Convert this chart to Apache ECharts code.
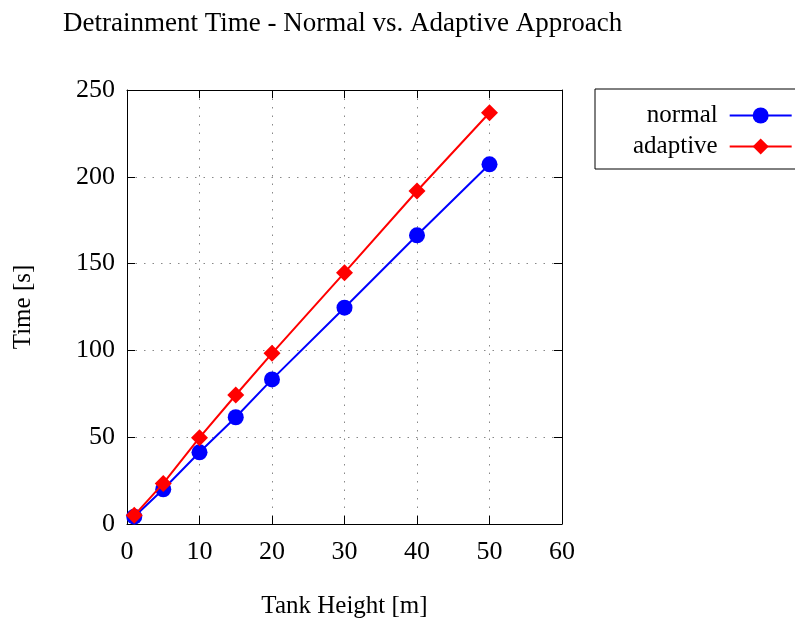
<!DOCTYPE html>
<html>
<head>
<meta charset="utf-8">
<script src="https://cdn.jsdelivr.net/npm/echarts@6/dist/echarts.min.js"></script>
<style>
html,body{margin:0;padding:0;background:#fff;}
#chart{width:795px;height:618px;}
</style>
</head>
<body>
<div id="chart"></div>
<script>
const tankHeights = [1, 5, 10, 15, 20, 30, 40, 50];
const normalTimes = [4.2, 20.0, 41.3, 61.5, 83.3, 124.6, 166.3, 207.2];
const adaptiveTimes = [5.0, 23.4, 49.7, 74.3, 98.3, 144.8, 191.8, 236.9];
const titleText = 'Detrainment Time - Normal vs. Adaptive Approach';
const xName = 'Tank Height [m]';
const yName = 'Time [s]';

const FONT = '"Liberation Serif", "DejaVu Serif", serif';
const chart = echarts.init(document.getElementById('chart'), null, {renderer: 'canvas'});

const toPairs = (xs, ys) => xs.map((x, i) => [x, ys[i]]);
const gridLine = {show: true, lineStyle: {color: '#888', width: 1, type: [1.5, 7]}};
const axisLine = {show: true, onZero: false, lineStyle: {color: '#000', width: 1}};
const tick = {show: true, inside: true, length: 8, lineStyle: {color: '#000', width: 1}};

chart.setOption({
  animation: false,
  backgroundColor: '#fff',
  textStyle: {fontFamily: FONT},
  title: {
    text: titleText,
    left: 58, top: 5,
    textStyle: {fontFamily: FONT, fontSize: 27, fontWeight: 'normal', color: '#000'}
  },
  grid: {left: 127, right: 233, top: 90, bottom: 94, containLabel: false, outerBoundsMode: 'none'},
  legend: {
    orient: 'vertical',
    left: 595, top: 89,
    align: 'right',
    itemWidth: 62, itemHeight: 20, itemGap: 6,
    padding: [14, 30, 10, 38],
    borderColor: '#000', borderWidth: 1,
    textStyle: {fontFamily: FONT, fontSize: 25, color: '#000', padding: [0, 7, 0, 0]},
    data: ['normal', 'adaptive']
  },
  xAxis: [{
    type: 'value', min: 0, max: 60, interval: 10,
    axisLine: axisLine, axisTick: tick, splitLine: gridLine,
    axisLabel: {fontFamily: FONT, fontSize: 26, color: '#000', margin: 15},
    name: xName, nameLocation: 'middle', nameGap: 70,
    nameTextStyle: {fontFamily: FONT, fontSize: 25, color: '#000'}
  }, {
    type: 'value', position: 'top', min: 0, max: 60, interval: 10,
    axisLine: axisLine, axisTick: tick, splitLine: {show: false},
    axisLabel: {show: false}
  }],
  yAxis: [{
    type: 'value', min: 0, max: 250, interval: 50,
    axisLine: axisLine, axisTick: tick, splitLine: gridLine,
    axisLabel: {fontFamily: FONT, fontSize: 26, color: '#000', margin: 12, padding: [6, 0, 0, 0]},
    name: yName, nameLocation: 'middle', nameGap: 91, nameRotate: 90,
    nameTextStyle: {fontFamily: FONT, fontSize: 25, color: '#000'}
  }, {
    type: 'value', position: 'right', min: 0, max: 250, interval: 50,
    axisLine: axisLine, axisTick: tick, splitLine: {show: false},
    axisLabel: {show: false}
  }],
  series: [{
    name: 'normal', type: 'line',
    xAxisIndex: 0, yAxisIndex: 0,
    data: toPairs(tankHeights, normalTimes),
    symbol: 'circle', symbolSize: 16,
    lineStyle: {color: '#0000ff', width: 2},
    itemStyle: {color: '#0000ff'},
    z: 2
  }, {
    name: 'adaptive', type: 'line',
    xAxisIndex: 0, yAxisIndex: 0,
    data: toPairs(tankHeights, adaptiveTimes),
    symbol: 'diamond', symbolSize: 17,
    lineStyle: {color: '#ff0000', width: 2},
    itemStyle: {color: '#ff0000'},
    z: 3
  }]
});
</script>
</body>
</html>
